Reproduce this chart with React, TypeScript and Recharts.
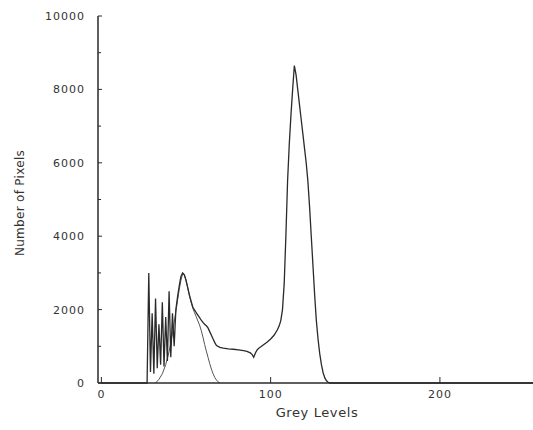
import { LineChart, Line, XAxis, YAxis } from 'recharts';

// histogram of the image, sparse points (grey level -> count)
const greyLevels = [
  0, 27, 28, 29, 30, 31, 32, 33, 34, 35, 36, 37, 38, 39, 40, 41, 42, 43, 44, 45,
  46, 47, 48, 49, 50, 51, 52, 53, 54, 55, 56, 57, 58, 59, 60, 61, 62, 63, 64, 65,
  66, 67, 68, 70, 72, 75, 78, 81, 84, 86, 88, 89, 90, 91, 92, 93, 94, 96, 98, 100,
  102, 104, 105, 106, 107, 108, 109, 110, 111, 112, 113, 114, 115, 116, 117, 118,
  119, 120, 121, 122, 123, 124, 125, 126, 127, 128, 129, 130, 131, 132, 133, 134,
  135, 255,
];
const pixelCounts = [
  0, 0, 3000, 300, 1900, 250, 2300, 400, 1600, 500, 2200, 450, 1800, 600, 2500, 700, 1900, 1000, 2000, 2350,
  2650, 2900, 3000, 2950, 2800, 2600, 2400, 2230, 2070, 1990, 1920, 1850, 1780, 1710, 1650, 1600, 1560, 1500, 1400, 1300,
  1200, 1100, 1020, 970, 950, 930, 920, 900, 880, 860, 820, 780, 700, 820, 900, 950, 980, 1050, 1120, 1200,
  1300, 1450, 1550, 1700, 2000, 2700, 4000, 5500, 6500, 7300, 8000, 8650, 8400, 8000, 7600, 7200,
  6800, 6400, 6000, 5500, 4800, 4000, 3200, 2400, 1700, 1200, 800, 500, 280, 140, 60, 20,
  0, 0,
];

// smooth fitted curve for the dark mode
const fitLevels = [
  32, 34, 36, 38, 40, 42, 44, 46, 47, 48, 49, 50, 51, 52, 53, 54, 55, 56, 57, 58,
  59, 60, 61, 62, 63, 64, 65, 66, 67, 68, 69, 70,
];
const fitCounts = [
  0, 100, 250, 500, 850, 1350, 1950, 2550, 2800, 2980, 2950, 2800, 2600, 2380, 2200, 2040, 1920, 1810, 1690, 1580,
  1430, 1250, 1050, 870, 700, 530, 380, 250, 150, 80, 30, 0,
];

const xTicks = [0, 100, 200];
const yTicks = [0, 1000, 2000, 3000, 4000, 5000, 6000, 7000, 8000, 9000, 10000];

const histData = greyLevels.map((g, i) => ({ g, v: pixelCounts[i] }));
const fitData = fitLevels.map((g, i) => ({ g, v: fitCounts[i] }));

const INK = '#2a2a2a';
const FONT = '"DejaVu Sans", sans-serif';

function YTick({ x, y, payload }: any) {
  const major = payload.value % 2000 === 0;
  return (
    <g>
      <line x1={x} x2={x + (major ? 4 : 3)} y1={y} y2={y} stroke={INK} strokeWidth={1} />
      {major && (
        <text x={x - 13} y={y} dy={4} textAnchor="end" fontSize={11} letterSpacing={1} fill="#333" fontFamily={FONT}>
          {payload.value}
        </text>
      )}
    </g>
  );
}

function XTick({ x, y, payload }: any) {
  return (
    <g>
      <line x1={x} x2={x} y1={y} y2={y - 6} stroke={INK} strokeWidth={1} />
      <text x={x} y={y + 15} textAnchor="middle" fontSize={11} letterSpacing={1} fill="#333" fontFamily={FONT}>
        {payload.value}
      </text>
    </g>
  );
}

export default function App() {
  return (
    <div style={{ position: 'absolute', left: 0, top: 0, width: 533, height: 430, background: '#fff' }}>
      <LineChart width={533} height={430} margin={{ top: 16, right: 0, bottom: 0, left: 0 }}>
        <XAxis
          dataKey="g"
          type="number"
          domain={[-2, 255]}
          allowDataOverflow
          ticks={xTicks}
          interval={0}
          height={47}
          tickSize={0}
          tickMargin={0}
          tickLine={false}
          axisLine={{ stroke: INK, strokeWidth: 1.5 }}
          tick={<XTick />}
        />
        <YAxis
          dataKey="v"
          type="number"
          domain={[0, 10000]}
          ticks={yTicks}
          interval={0}
          width={98}
          tickSize={0}
          tickMargin={0}
          tickLine={false}
          axisLine={{ stroke: INK, strokeWidth: 1.5 }}
          tick={<YTick />}
        />
        <Line
          data={fitData}
          dataKey="v"
          type="linear"
          stroke="#555"
          strokeWidth={1}
          dot={false}
          isAnimationActive={false}
        />
        <Line
          data={histData}
          dataKey="v"
          type="linear"
          stroke={INK}
          strokeWidth={1.3}
          dot={false}
          isAnimationActive={false}
        />
        <text x={317} y={417} textAnchor="middle" fontSize={13} letterSpacing={0.6} fill="#333" fontFamily={FONT}>
          Grey Levels
        </text>
        <text
          x={24}
          y={203}
          transform="rotate(-90 24 203)"
          textAnchor="middle"
          fontSize={12}
          letterSpacing={0.3}
          fill="#333"
          fontFamily={FONT}
        >
          Number of Pixels
        </text>
      </LineChart>
    </div>
  );
}
